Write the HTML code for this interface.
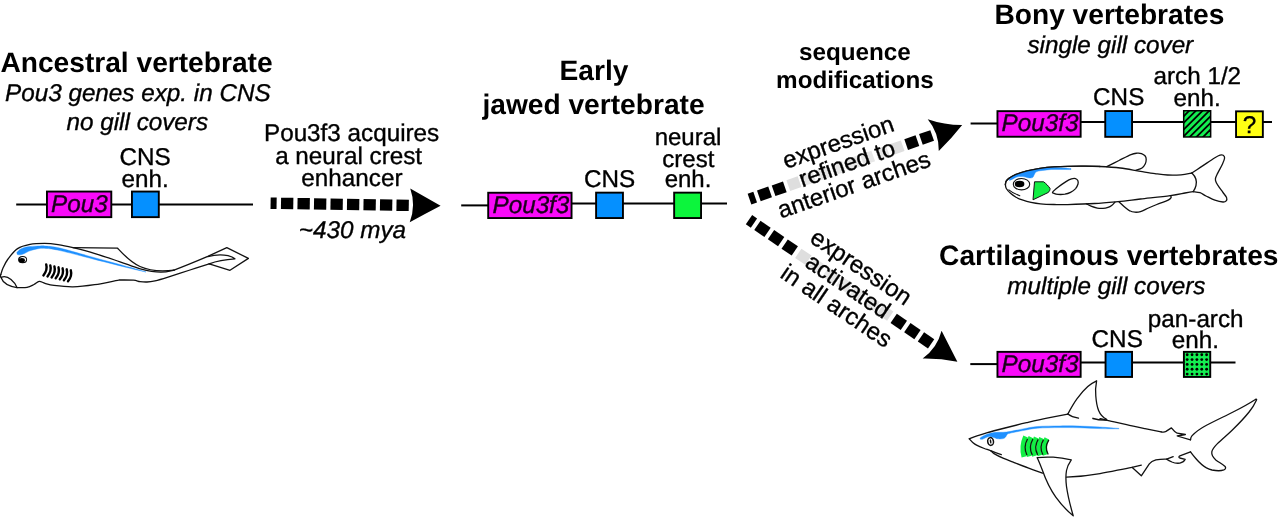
<!DOCTYPE html>
<html><head><meta charset="utf-8"><title>Pou3f3 gill cover evolution</title>
<style>
html,body{margin:0;padding:0;background:#fff;}
body{width:1280px;height:518px;overflow:hidden;font-family:"Liberation Sans",sans-serif;}
svg{display:block;font-family:"Liberation Sans",sans-serif;will-change:transform;}
text{text-rendering:geometricPrecision;}
</style></head><body>
<svg width="1280" height="518" viewBox="0 0 1280 518">
<rect width="1280" height="518" fill="#fff"/>
<line x1="16.20" y1="204.40" x2="253.00" y2="204.40" stroke="#000" stroke-width="2.00"/>
<rect x="46.95" y="191.55" width="64.35" height="25.60" fill="#f90af9" stroke="#000" stroke-width="1.90"/>
<rect x="131.95" y="191.55" width="26.85" height="25.60" fill="#0590ff" stroke="#000" stroke-width="1.90"/>
<text transform="translate(79.40,212.00) scale(1.0000,1)" font-size="24.25" text-anchor="middle" font-weight="normal" font-style="italic" fill="#1c001c" stroke="#1c001c" stroke-width="0.35">Pou3</text>
<text transform="translate(145.00,165.30) scale(1.0000,1)" font-size="24.25" text-anchor="middle" font-weight="normal" font-style="normal" fill="#000" stroke="#000" stroke-width="0.35">CNS</text>
<text transform="translate(145.20,186.80) scale(1.0000,1)" font-size="24.25" text-anchor="middle" font-weight="normal" font-style="normal" fill="#000" stroke="#000" stroke-width="0.35">enh.</text>
<line x1="461.20" y1="205.40" x2="489.00" y2="205.40" stroke="#000" stroke-width="2.00"/>
<line x1="571.00" y1="203.50" x2="727.00" y2="203.50" stroke="#000" stroke-width="2.00"/>
<rect x="488.20" y="192.75" width="83.35" height="25.30" fill="#f90af9" stroke="#000" stroke-width="1.90"/>
<rect x="596.10" y="192.65" width="26.85" height="25.40" fill="#0590ff" stroke="#000" stroke-width="1.90"/>
<rect x="674.15" y="192.65" width="26.90" height="25.40" fill="#0cf53c" stroke="#000" stroke-width="1.90"/>
<text transform="translate(530.90,212.80) scale(1.0000,1)" font-size="24.25" text-anchor="middle" font-weight="normal" font-style="italic" fill="#1c001c" stroke="#1c001c" stroke-width="0.35">Pou3f3</text>
<text transform="translate(609.50,186.50) scale(1.0000,1)" font-size="24.25" text-anchor="middle" font-weight="normal" font-style="normal" fill="#000" stroke="#000" stroke-width="0.35">CNS</text>
<text transform="translate(688.00,145.00) scale(1.0000,1)" font-size="24.00" text-anchor="middle" font-weight="normal" font-style="normal" fill="#000" stroke="#000" stroke-width="0.35">neural</text>
<text transform="translate(688.30,166.50) scale(1.0000,1)" font-size="24.00" text-anchor="middle" font-weight="normal" font-style="normal" fill="#000" stroke="#000" stroke-width="0.35">crest</text>
<text transform="translate(688.00,187.40) scale(1.0000,1)" font-size="24.00" text-anchor="middle" font-weight="normal" font-style="normal" fill="#000" stroke="#000" stroke-width="0.35">enh.</text>
<line x1="970.60" y1="123.50" x2="998.00" y2="123.50" stroke="#000" stroke-width="2.00"/>
<line x1="1080.00" y1="121.90" x2="1272.00" y2="121.90" stroke="#000" stroke-width="2.00"/>
<rect x="997.45" y="111.15" width="83.20" height="25.60" fill="#f90af9" stroke="#000" stroke-width="1.90"/>
<rect x="1105.25" y="111.05" width="26.80" height="25.80" fill="#0590ff" stroke="#000" stroke-width="1.90"/>
<rect x="1236.05" y="111.35" width="26.80" height="25.70" fill="#ffff14" stroke="#000" stroke-width="1.90"/>
<clipPath id="hc"><rect x="1184.45" y="111.50" width="25.45" height="24.70"/></clipPath>
<rect x="1182.95" y="110.00" width="28.45" height="27.70" fill="#000"/>
<g clip-path="url(#hc)" stroke="#14ee50" stroke-width="2.95"><line x1="1190.25" y1="106.30" x2="1179.25" y2="117.30"/><line x1="1196.95" y1="106.30" x2="1179.25" y2="124.00"/><line x1="1203.65" y1="106.30" x2="1179.25" y2="130.70"/><line x1="1210.35" y1="106.30" x2="1179.25" y2="137.40"/><line x1="1217.05" y1="106.30" x2="1179.25" y2="144.10"/><line x1="1223.75" y1="106.30" x2="1179.25" y2="150.80"/><line x1="1230.45" y1="106.30" x2="1179.25" y2="157.50"/><line x1="1237.15" y1="106.30" x2="1179.25" y2="164.20"/><line x1="1243.85" y1="106.30" x2="1179.25" y2="170.90"/></g>
<text transform="translate(1040.00,131.30) scale(1.0000,1)" font-size="24.25" text-anchor="middle" font-weight="normal" font-style="italic" fill="#1c001c" stroke="#1c001c" stroke-width="0.35">Pou3f3</text>
<line x1="970.30" y1="364.10" x2="998.00" y2="364.10" stroke="#000" stroke-width="2.00"/>
<line x1="1080.00" y1="362.40" x2="1235.50" y2="362.40" stroke="#000" stroke-width="2.00"/>
<rect x="997.45" y="351.85" width="83.20" height="25.00" fill="#f90af9" stroke="#000" stroke-width="1.90"/>
<rect x="1105.55" y="351.85" width="26.50" height="25.10" fill="#0590ff" stroke="#000" stroke-width="1.90"/>
<rect x="1183.90" y="351.85" width="26.35" height="25.10" fill="#14ee50" stroke="#000" stroke-width="1.90"/>
<g fill="#000"><circle cx="1187.20" cy="354.75" r="1.42"/><circle cx="1192.05" cy="354.75" r="1.42"/><circle cx="1196.90" cy="354.75" r="1.42"/><circle cx="1201.75" cy="354.75" r="1.42"/><circle cx="1206.60" cy="354.75" r="1.42"/><circle cx="1187.20" cy="359.58" r="1.42"/><circle cx="1192.05" cy="359.58" r="1.42"/><circle cx="1196.90" cy="359.58" r="1.42"/><circle cx="1201.75" cy="359.58" r="1.42"/><circle cx="1206.60" cy="359.58" r="1.42"/><circle cx="1187.20" cy="364.41" r="1.42"/><circle cx="1192.05" cy="364.41" r="1.42"/><circle cx="1196.90" cy="364.41" r="1.42"/><circle cx="1201.75" cy="364.41" r="1.42"/><circle cx="1206.60" cy="364.41" r="1.42"/><circle cx="1187.20" cy="369.24" r="1.42"/><circle cx="1192.05" cy="369.24" r="1.42"/><circle cx="1196.90" cy="369.24" r="1.42"/><circle cx="1201.75" cy="369.24" r="1.42"/><circle cx="1206.60" cy="369.24" r="1.42"/><circle cx="1187.20" cy="374.07" r="1.42"/><circle cx="1192.05" cy="374.07" r="1.42"/><circle cx="1196.90" cy="374.07" r="1.42"/><circle cx="1201.75" cy="374.07" r="1.42"/><circle cx="1206.60" cy="374.07" r="1.42"/></g>
<text transform="translate(1040.00,371.60) scale(1.0000,1)" font-size="24.25" text-anchor="middle" font-weight="normal" font-style="italic" fill="#1c001c" stroke="#1c001c" stroke-width="0.35">Pou3f3</text>
<text transform="translate(1117.20,346.60) scale(1.0000,1)" font-size="24.25" text-anchor="middle" font-weight="normal" font-style="normal" fill="#000" stroke="#000" stroke-width="0.35">CNS</text>
<text transform="translate(1195.70,326.80) scale(1.0000,1)" font-size="24.25" text-anchor="middle" font-weight="normal" font-style="normal" fill="#000" stroke="#000" stroke-width="0.35">pan-arch</text>
<text transform="translate(1195.30,347.80) scale(1.0000,1)" font-size="24.25" text-anchor="middle" font-weight="normal" font-style="normal" fill="#000" stroke="#000" stroke-width="0.35">enh.</text>
<text transform="translate(136.50,71.90) scale(1.0000,1)" font-size="28.15" text-anchor="middle" font-weight="bold" font-style="normal" fill="#000">Ancestral vertebrate</text>
<text transform="translate(137.80,100.70) scale(1.0000,1)" font-size="24.25" text-anchor="middle" font-weight="normal" font-style="italic" fill="#000" stroke="#000" stroke-width="0.35">Pou3 genes exp. in CNS</text>
<text transform="translate(137.30,129.50) scale(1.0000,1)" font-size="24.25" text-anchor="middle" font-weight="normal" font-style="italic" fill="#000" stroke="#000" stroke-width="0.35">no gill covers</text>
<text transform="translate(351.60,140.60) scale(1.0000,1)" font-size="24.25" text-anchor="middle" font-weight="normal" font-style="normal" fill="#000" stroke="#000" stroke-width="0.35">Pou3f3 acquires</text>
<text transform="translate(348.60,163.50) scale(1.0000,1)" font-size="24.25" text-anchor="middle" font-weight="normal" font-style="normal" fill="#000" stroke="#000" stroke-width="0.35">a neural crest</text>
<text transform="translate(351.90,186.40) scale(1.0000,1)" font-size="24.25" text-anchor="middle" font-weight="normal" font-style="normal" fill="#000" stroke="#000" stroke-width="0.35">enhancer</text>
<text transform="translate(352.40,237.80) scale(1.0000,1)" font-size="24.25" text-anchor="middle" font-weight="normal" font-style="italic" fill="#000" stroke="#000" stroke-width="0.35">~430 mya</text>
<text transform="translate(594.00,80.10) scale(1.0000,1)" font-size="28.15" text-anchor="middle" font-weight="bold" font-style="normal" fill="#000">Early</text>
<text transform="translate(593.50,114.20) scale(1.0000,1)" font-size="28.15" text-anchor="middle" font-weight="bold" font-style="normal" fill="#000">jawed vertebrate</text>
<text transform="translate(854.90,59.50) scale(1.0000,1)" font-size="24.25" text-anchor="middle" font-weight="bold" font-style="normal" fill="#000">sequence</text>
<text transform="translate(854.90,87.70) scale(1.0000,1)" font-size="24.25" text-anchor="middle" font-weight="bold" font-style="normal" fill="#000">modifications</text>
<text transform="translate(1109.40,24.10) scale(1.0000,1)" font-size="28.15" text-anchor="middle" font-weight="bold" font-style="normal" fill="#000">Bony vertebrates</text>
<text transform="translate(1110.30,52.90) scale(1.0000,1)" font-size="24.25" text-anchor="middle" font-weight="normal" font-style="italic" fill="#000" stroke="#000" stroke-width="0.35">single gill cover</text>
<text transform="translate(1108.80,264.80) scale(1.0000,1)" font-size="28.15" text-anchor="middle" font-weight="bold" font-style="normal" fill="#000">Cartilaginous vertebrates</text>
<text transform="translate(1106.40,294.00) scale(1.0000,1)" font-size="24.25" text-anchor="middle" font-weight="normal" font-style="italic" fill="#000" stroke="#000" stroke-width="0.35">multiple gill covers</text>
<text transform="translate(1118.70,105.20) scale(1.0000,1)" font-size="24.25" text-anchor="middle" font-weight="normal" font-style="normal" fill="#000" stroke="#000" stroke-width="0.35">CNS</text>
<text transform="translate(1197.30,84.10) scale(1.0000,1)" font-size="24.25" text-anchor="middle" font-weight="normal" font-style="normal" fill="#000" stroke="#000" stroke-width="0.35">arch 1/2</text>
<text transform="translate(1197.20,105.60) scale(1.0000,1)" font-size="24.25" text-anchor="middle" font-weight="normal" font-style="normal" fill="#000" stroke="#000" stroke-width="0.35">enh.</text>
<text transform="translate(1249.60,133.10) scale(1.0000,1)" font-size="24.25" text-anchor="middle" font-weight="normal" font-style="normal" fill="#000" stroke="#000" stroke-width="0.35">?</text>
<g transform="translate(270.60,203.20) rotate(0.90)">
<rect x="0" y="-5.70" width="6.00" height="11.40" fill="#000"/>
<rect x="10.40" y="-5.70" width="12.30" height="11.40" fill="#000"/>
<rect x="26.90" y="-5.70" width="12.30" height="11.40" fill="#000"/>
<rect x="43.40" y="-5.70" width="12.30" height="11.40" fill="#000"/>
<rect x="59.90" y="-5.70" width="12.30" height="11.40" fill="#000"/>
<rect x="76.40" y="-5.70" width="12.30" height="11.40" fill="#000"/>
<rect x="92.90" y="-5.70" width="12.30" height="11.40" fill="#000"/>
<rect x="109.40" y="-5.70" width="12.30" height="11.40" fill="#000"/>
<rect x="125.90" y="-5.70" width="12.30" height="11.40" fill="#000"/>
<path d="M139.40,-16.80 Q145.60,0 139.40,16.80 Q154.70,8.40 170.00,0 Q154.70,-8.40 139.40,-16.80 Z" fill="#000"/>
</g>
<g transform="translate(749.50,199.10) rotate(-19.20)">
<rect x="0" y="-5.65" width="6.00" height="11.30" fill="#000"/>
<rect x="9.90" y="-5.65" width="11.90" height="11.30" fill="#000"/>
<rect x="25.50" y="-5.65" width="11.90" height="11.30" fill="#000"/>
<rect x="41.10" y="-5.65" width="11.90" height="11.30" fill="#dedede"/>
<rect x="56.70" y="-5.65" width="11.90" height="11.30" fill="#e7e7e7"/>
<rect x="72.30" y="-5.65" width="11.90" height="11.30" fill="#e7e7e7"/>
<rect x="87.90" y="-5.65" width="11.90" height="11.30" fill="#e7e7e7"/>
<rect x="103.50" y="-5.65" width="11.90" height="11.30" fill="#e7e7e7"/>
<rect x="119.10" y="-5.65" width="11.90" height="11.30" fill="#e7e7e7"/>
<rect x="134.70" y="-5.65" width="11.90" height="11.30" fill="#e7e7e7"/>
<rect x="150.30" y="-5.65" width="11.90" height="11.30" fill="#dedede"/>
<rect x="165.90" y="-5.65" width="11.90" height="11.30" fill="#000"/>
<rect x="181.50" y="-5.65" width="11.90" height="11.30" fill="#000"/>
<path d="M194.60,-16.80 Q200.80,0 194.60,16.80 Q210.48,9.45 225.20,0 Q208.46,-5.77 194.60,-16.80 Z" fill="#000"/>
</g>
<g transform="translate(749.00,219.70) rotate(34.30)">
<rect x="0" y="-5.60" width="6.00" height="11.20" fill="#000"/>
<rect x="10.15" y="-5.60" width="12.30" height="11.20" fill="#000"/>
<rect x="26.65" y="-5.60" width="12.30" height="11.20" fill="#000"/>
<rect x="43.15" y="-5.60" width="12.30" height="11.20" fill="#000"/>
<rect x="59.65" y="-5.60" width="12.30" height="11.20" fill="#dedede"/>
<rect x="76.15" y="-5.60" width="12.30" height="11.20" fill="#e7e7e7"/>
<rect x="92.65" y="-5.60" width="12.30" height="11.20" fill="#e7e7e7"/>
<rect x="109.15" y="-5.60" width="12.30" height="11.20" fill="#e7e7e7"/>
<rect x="125.65" y="-5.60" width="12.30" height="11.20" fill="#e7e7e7"/>
<rect x="142.15" y="-5.60" width="12.30" height="11.20" fill="#e7e7e7"/>
<rect x="158.65" y="-5.60" width="12.30" height="11.20" fill="#dedede"/>
<rect x="175.15" y="-5.60" width="12.30" height="11.20" fill="#000"/>
<rect x="191.65" y="-5.60" width="12.30" height="11.20" fill="#000"/>
<rect x="208.15" y="-5.60" width="12.30" height="11.20" fill="#000"/>
<path d="M221.65,-16.80 Q227.85,0 221.65,16.80 Q235.99,6.65 252.25,0 Q236.95,-8.40 221.65,-16.80 Z" fill="#000"/>
</g>
<text transform="translate(840.90,149.80) rotate(-19.20) scale(1.0000,1)" font-size="24.00" text-anchor="middle" font-weight="normal" font-style="normal" fill="#000" stroke="#000" stroke-width="0.35">expression</text>
<text transform="translate(849.60,171.00) rotate(-19.20) scale(1.0000,1)" font-size="24.00" text-anchor="middle" font-weight="normal" font-style="normal" fill="#000" stroke="#000" stroke-width="0.35">refined to</text>
<text transform="translate(856.60,192.20) rotate(-19.20) scale(1.0000,1)" font-size="24.00" text-anchor="middle" font-weight="normal" font-style="normal" fill="#000" stroke="#000" stroke-width="0.35">anterior arches</text>
<text transform="translate(856.70,273.80) rotate(34.00) scale(1.0000,1)" font-size="24.00" text-anchor="middle" font-weight="normal" font-style="normal" fill="#000" stroke="#000" stroke-width="0.35">expression</text>
<text transform="translate(843.60,292.70) rotate(34.00) scale(1.0000,1)" font-size="24.00" text-anchor="middle" font-weight="normal" font-style="normal" fill="#000" stroke="#000" stroke-width="0.35">activated</text>
<text transform="translate(832.00,312.60) rotate(34.00) scale(1.0000,1)" font-size="24.00" text-anchor="middle" font-weight="normal" font-style="normal" fill="#000" stroke="#000" stroke-width="0.35">in all arches</text>
<path d="M0.8,274.5 C1.2,273.4 1.8,270.6 3.0,268.0 C4.2,265.4 5.6,262.2 8.0,259.0 C10.4,255.8 13.9,251.0 17.6,248.6 C21.3,246.2 25.5,245.3 30.0,244.4 C34.5,243.5 39.9,243.4 44.6,243.4 C49.3,243.4 53.3,243.9 58.0,244.6 C62.7,245.3 66.8,246.2 73.0,247.7 C79.2,249.2 87.2,251.2 95.0,253.6 C102.8,255.9 112.5,259.3 120.0,261.8 C127.5,264.3 133.6,267.1 140.3,268.8 C147.1,270.5 154.9,272.0 160.5,272.2 C166.1,272.4 171.8,270.5 174.0,270.1" fill="none" stroke="#111" stroke-width="1.30" stroke-linejoin="round" stroke-linecap="round"/>
<path d="M174,270.1 C185,266 197,261 207.8,256.4 L226.8,247.6 L248.4,258.4 L230,270.3 L209.2,263.8" fill="none" stroke="#111" stroke-width="1.30" stroke-linejoin="round" stroke-linecap="round"/>
<path d="M207.8,256.6 C213,255.2 222,254.6 228,255.6 C231,256.3 233.5,257.5 234.9,258.8 C228,259.2 217,260.8 209.2,263.8" fill="none" stroke="#111" stroke-width="1.30" stroke-linejoin="round" stroke-linecap="round"/>
<path d="M209.2,263.8 C206.0,264.8 197.0,267.8 190.0,270.0 C183.0,272.2 173.1,275.5 167.3,277.3 C161.5,279.1 158.4,280.0 155.0,280.8 C151.6,281.6 149.5,281.9 147.0,282.0 C144.5,282.1 142.2,281.9 140.0,281.6 C137.8,281.3 136.8,280.5 133.5,280.2 C130.2,279.9 122.7,280.0 120.0,280.0 C117.3,280.0 121.8,279.5 117.6,280.3 C113.4,281.1 102.0,283.6 94.6,284.7 C87.2,285.8 79.8,286.7 73.0,286.8 C66.2,286.9 58.7,286.0 54.0,285.4 C49.3,284.8 47.5,284.0 45.0,283.3 C42.5,282.6 41.0,281.2 39.2,281.4 C37.4,281.6 36.0,283.5 34.0,284.5 C32.0,285.5 29.8,286.9 27.0,287.4 C24.2,287.9 18.7,287.6 17.0,287.6" fill="none" stroke="#111" stroke-width="1.30" stroke-linejoin="round" stroke-linecap="round"/>
<path d="M17,287.6 C10,286.5 3,283 1,277.5 C0.3,276 0.5,275 0.8,274.5" fill="none" stroke="#111" stroke-width="1.30" stroke-linejoin="round" stroke-linecap="round"/>
<path d="M1.2,277.3 C4,276.2 8,277 11,279.5 C14,282 16,285 17,287.4" fill="none" stroke="#111" stroke-width="1.30" stroke-linejoin="round" stroke-linecap="round"/>
<path d="M73,247.6 L117.6,248.2 C123,254 130,262 140,266.5 C150,271 162,271.6 174,270.1" fill="none" stroke="#111" stroke-width="1.30" stroke-linejoin="round" stroke-linecap="round"/>
<path d="M16.8,252.6 C17.2,252.1 18.5,250.6 19.5,249.8 C20.5,249.0 21.2,248.5 23.0,247.9 C24.8,247.3 27.2,246.8 30.0,246.5 C32.8,246.2 37.3,246.0 40.0,245.9 C42.7,245.8 42.7,245.7 46.0,246.1 C49.3,246.5 51.9,246.2 60.0,248.1 C68.1,250.0 82.9,254.5 94.6,257.7 C106.3,260.9 121.4,264.9 130.0,267.3 C138.6,269.7 143.3,271.2 146.0,272.0 L146.0,272.0 C143.3,271.4 138.6,270.4 130.0,268.3 C121.4,266.2 106.3,262.3 94.6,259.4 C82.9,256.4 68.1,252.4 60.0,250.6 C51.9,248.8 49.7,248.7 46.0,248.4 C42.3,248.1 40.7,248.3 38.0,248.7 C35.3,249.1 32.2,250.1 30.0,250.8 C27.8,251.6 26.6,252.5 25.0,253.2 C23.4,253.9 21.8,254.6 20.5,254.8 C19.2,255.0 17.8,254.5 17.2,254.4Z" fill="#1e90ff" stroke="#1e90ff" stroke-width="0.4" stroke-linejoin="round"/>
<ellipse cx="22.6" cy="259.7" rx="4.5" ry="3.6" fill="#0a0a0a"/>
<ellipse cx="22.8" cy="259.5" rx="3.3" ry="2.5" fill="#fff"/>
<ellipse cx="21.9" cy="260.2" rx="3.0" ry="2.3" fill="#000"/>
<path d="M46.2,264.4 q1.6,5.5 -2.8,11.0" fill="none" stroke="#000" stroke-width="2.4" stroke-linecap="round"/>
<path d="M50.3,265.4 q1.6,5.5 -2.8,11.0" fill="none" stroke="#000" stroke-width="2.4" stroke-linecap="round"/>
<path d="M54.4,266.4 q1.6,5.5 -2.8,11.0" fill="none" stroke="#000" stroke-width="2.4" stroke-linecap="round"/>
<path d="M58.5,267.3 q1.6,5.5 -2.8,11.0" fill="none" stroke="#000" stroke-width="2.4" stroke-linecap="round"/>
<path d="M62.6,268.3 q1.6,5.5 -2.8,11.0" fill="none" stroke="#000" stroke-width="2.4" stroke-linecap="round"/>
<path d="M66.7,269.3 q1.6,5.5 -2.8,11.0" fill="none" stroke="#000" stroke-width="2.4" stroke-linecap="round"/>
<path d="M70.8,270.3 q1.6,5.5 -2.8,11.0" fill="none" stroke="#000" stroke-width="2.4" stroke-linecap="round"/>
<path d="M1005.4,184.6 C1005.5,184.1 1005.5,182.5 1006.0,181.5 C1006.5,180.5 1006.8,179.8 1008.5,178.6 C1010.2,177.4 1012.9,175.7 1016.0,174.4 C1019.1,173.1 1023.0,171.9 1027.0,170.9 C1031.0,169.9 1035.5,169.0 1040.0,168.3 C1044.5,167.6 1047.2,167.2 1054.0,166.8 C1060.8,166.5 1073.3,166.2 1081.0,166.2 C1088.7,166.1 1093.5,166.2 1100.0,166.5 C1106.5,166.8 1113.5,167.2 1120.3,168.0 C1127.0,168.8 1134.7,170.5 1140.5,171.4 C1146.3,172.3 1150.5,173.0 1155.0,173.6 C1159.5,174.2 1163.3,174.8 1167.6,175.0 C1171.9,175.2 1177.0,175.1 1181.0,174.8 C1185.0,174.5 1190.1,173.3 1191.9,173.0" fill="none" stroke="#111" stroke-width="1.30" stroke-linejoin="round" stroke-linecap="round"/>
<path d="M1005.4,184.6 C1005.5,185.2 1005.4,187.0 1006.3,188.5 C1007.2,190.0 1009.2,192.2 1010.8,193.6 C1012.4,195.0 1014.0,196.1 1016.0,197.2 C1018.0,198.3 1020.5,199.3 1023.0,200.2 C1025.5,201.1 1028.1,201.8 1031.0,202.4 C1033.9,203.0 1036.7,203.5 1040.5,203.8 C1044.3,204.2 1049.5,204.4 1054.0,204.5 C1058.5,204.6 1060.8,204.8 1067.6,204.6 C1074.4,204.4 1086.2,204.0 1094.6,203.5 C1103.0,203.0 1110.3,202.3 1118.0,201.6 C1125.7,200.8 1131.8,200.0 1140.5,199.0 C1149.2,198.0 1162.9,196.6 1170.3,195.6 C1177.7,194.6 1181.2,193.7 1185.0,193.0 C1188.8,192.3 1191.8,191.8 1193.2,191.6" fill="none" stroke="#111" stroke-width="1.30" stroke-linejoin="round" stroke-linecap="round"/>
<path d="M1191.9,173.0 C1193.8,171.8 1199.2,168.1 1203.0,165.6 C1206.8,163.1 1212.1,159.5 1214.9,157.8 C1217.7,156.1 1218.6,155.6 1220.0,155.2 C1221.4,154.8 1222.4,154.8 1223.2,155.3 C1224.0,155.8 1224.7,156.6 1224.6,158.0 C1224.5,159.4 1223.7,161.4 1222.5,164.0 C1221.3,166.6 1218.8,170.9 1217.6,173.4 C1216.4,175.9 1215.6,177.2 1215.4,178.8 C1215.2,180.4 1215.9,181.7 1216.5,183.0 C1217.1,184.3 1217.8,185.3 1218.9,186.9 C1220.0,188.5 1221.7,190.7 1223.0,192.5 C1224.3,194.3 1226.1,196.2 1226.6,197.6 C1227.1,199.0 1226.8,200.1 1226.2,200.8 C1225.6,201.5 1224.9,202.1 1223.0,202.0 C1221.1,201.9 1217.7,201.2 1214.9,200.2 C1212.1,199.2 1208.5,197.2 1206.0,196.0 C1203.5,194.8 1202.1,193.4 1200.0,192.7 C1197.9,192.0 1194.3,191.8 1193.2,191.6" fill="none" stroke="#111" stroke-width="1.30" stroke-linejoin="round" stroke-linecap="round"/>
<path d="M1191.9,173 C1195.5,176.5 1197,181.5 1196,185.5 C1195.4,188 1194.4,190 1193.2,191.6" fill="none" stroke="#111" stroke-width="1.30" stroke-linejoin="round" stroke-linecap="round"/>
<path d="M1106.8,166.6 C1108.8,165.6 1115.0,162.5 1119.0,160.5 C1123.0,158.5 1128.0,155.8 1131.0,154.6 C1134.0,153.4 1135.2,153.4 1137.0,153.2 C1138.8,153.0 1140.1,153.1 1141.5,153.6 C1142.9,154.1 1144.4,155.0 1145.2,156.0 C1146.0,157.0 1146.2,158.2 1146.2,159.5 C1146.2,160.8 1145.9,162.6 1145.2,164.0 C1144.5,165.4 1143.6,166.9 1142.0,168.0 C1140.4,169.1 1136.8,170.0 1135.8,170.4" fill="none" stroke="#111" stroke-width="1.30" stroke-linejoin="round" stroke-linecap="round"/>
<path d="M1118.9,201.8 C1119.8,202.6 1122.2,205.0 1124.0,206.5 C1125.8,208.0 1127.9,209.9 1129.7,210.8 C1131.5,211.8 1133.2,212.1 1135.0,212.2 C1136.8,212.3 1138.2,212.3 1140.5,211.6 C1142.8,210.9 1145.8,209.2 1148.5,208.0 C1151.2,206.8 1154.2,205.5 1156.8,204.5 C1159.4,203.5 1162.0,202.6 1164.0,201.8 C1166.0,201.0 1167.8,200.4 1169.0,199.6 C1170.2,198.8 1171.0,197.9 1171.2,197.2 C1171.4,196.5 1170.5,195.9 1170.3,195.6" fill="none" stroke="#111" stroke-width="1.30" stroke-linejoin="round" stroke-linecap="round"/>
<path d="M1086.5,203.9 C1087.2,204.3 1089.2,205.5 1091.0,206.2 C1092.8,206.9 1095.3,207.7 1097.3,208.1 C1099.3,208.5 1101.2,208.5 1103.0,208.4 C1104.8,208.3 1106.5,207.9 1108.0,207.4 C1109.5,206.9 1110.8,206.1 1112.0,205.2 C1113.2,204.3 1114.4,202.7 1114.9,202.2" fill="none" stroke="#111" stroke-width="1.30" stroke-linejoin="round" stroke-linecap="round"/>
<path d="M1052.7,192.0 C1053.4,191.0 1055.8,188.9 1058.0,187.2 C1060.2,185.5 1063.8,183.0 1066.0,181.6 C1068.2,180.2 1069.9,179.4 1071.5,178.9 C1073.1,178.4 1074.5,178.3 1075.5,178.6 C1076.5,178.9 1077.4,179.7 1077.8,180.6 C1078.2,181.5 1078.4,182.7 1078.0,184.0 C1077.6,185.3 1076.8,187.2 1075.6,188.6 C1074.3,190.0 1072.3,191.4 1070.5,192.3 C1068.7,193.2 1067.0,193.8 1064.9,194.2 C1062.8,194.5 1059.8,194.5 1058.0,194.4 C1056.2,194.3 1054.9,193.8 1054.0,193.4 C1053.1,193.0 1052.0,193.0 1052.7,192.0Z" fill="none" stroke="#111" stroke-width="1.30" stroke-linejoin="round" stroke-linecap="round"/>
<path d="M1008.8,189.9 C1011.5,192.2 1015,194 1019.8,195.7" fill="none" stroke="#111" stroke-width="1.10" stroke-linejoin="round" stroke-linecap="round"/>
<path d="M1009.3,179.2 C1010.4,178.4 1013.0,176.0 1016.0,174.6 C1019.0,173.2 1023.0,172.0 1027.0,171.0 C1031.0,170.0 1035.5,169.2 1040.0,168.6 C1044.5,168.0 1048.8,167.6 1054.0,167.6 C1059.2,167.6 1068.2,168.4 1071.0,168.6 L1071.0,169.6 C1068.2,169.6 1058.3,169.3 1054.0,169.4 C1049.7,169.5 1047.8,169.8 1045.0,170.2 C1042.2,170.5 1038.8,170.8 1037.0,171.5 C1035.2,172.2 1035.2,173.4 1034.4,174.4 C1033.7,175.4 1033.6,177.0 1032.5,177.6 C1031.4,178.2 1029.6,178.0 1028.0,177.8 C1026.4,177.6 1024.8,176.8 1023.0,176.6 C1021.2,176.4 1018.8,176.4 1017.0,176.9 C1015.2,177.4 1013.3,178.8 1012.0,179.4 C1010.7,180.0 1009.8,180.2 1009.3,180.4Z" fill="#1e90ff" stroke="#1e90ff" stroke-width="0.4" stroke-linejoin="round"/>
<path d="M1005.4,184.6 C1005.5,184.1 1005.5,182.5 1006.0,181.5 C1006.5,180.5 1006.8,179.8 1008.5,178.6 C1010.2,177.4 1012.9,175.7 1016.0,174.4 C1019.1,173.1 1023.0,171.9 1027.0,170.9 C1031.0,169.9 1035.5,169.0 1040.0,168.3 C1044.5,167.6 1047.2,167.2 1054.0,166.8 C1060.8,166.5 1073.3,166.2 1081.0,166.2 C1088.7,166.1 1096.8,166.4 1100.0,166.5" fill="none" stroke="#111" stroke-width="1.30" stroke-linejoin="round" stroke-linecap="round"/>
<ellipse cx="1021.5" cy="184.2" rx="8.2" ry="5.7" fill="#fff" stroke="#111" stroke-width="1.1"/>
<ellipse cx="1019.6" cy="184" rx="4.8" ry="3.3" fill="#000"/>
<path d="M1034.5,181.8 L1043.6,181.8 C1046,183.5 1048.4,186 1050,188.4 C1050.2,190 1049.4,191.6 1048,192.6 L1033,199.8 Z" fill="#12ee44" stroke="#111" stroke-width="1" stroke-linejoin="round"/>
<path d="M969.3,438.8 C970.6,438.3 974.1,436.9 977.0,435.9 C979.9,434.9 981.9,434.1 986.6,432.8 C991.3,431.5 998.3,429.7 1005.0,428.0 C1011.7,426.3 1019.6,424.3 1026.6,422.7 C1033.6,421.1 1040.1,419.6 1047.0,418.2 C1053.9,416.8 1064.3,414.8 1067.8,414.1" fill="none" stroke="#111" stroke-width="1.30" stroke-linejoin="round" stroke-linecap="round"/>
<path d="M1067.8,414.1 C1070.5,409 1073.5,403.5 1077.1,398.6 C1080.5,394 1084,390 1087.8,386.6 C1090.5,384.2 1093.5,382.2 1096.6,380.8 C1095.6,386 1095.3,391 1095.8,396 C1096.2,401.5 1097,406.5 1098.6,410.6 C1100.2,414.6 1103,417.6 1106.6,419.4" fill="none" stroke="#111" stroke-width="1.30" stroke-linejoin="round" stroke-linecap="round"/>
<path d="M1067.8,414.1 C1070.5,416.2 1074.5,417.6 1078.5,418.2" fill="none" stroke="#111" stroke-width="1.30" stroke-linejoin="round" stroke-linecap="round"/>
<path d="M1093,418.4 C1097,419.6 1102,420.2 1106.6,420" fill="none" stroke="#111" stroke-width="1.60" stroke-linejoin="round" stroke-linecap="round"/>
<path d="M1100.0,418.6 C1102.2,419.1 1108.6,420.7 1113.0,421.7 C1117.4,422.7 1121.3,423.5 1126.6,424.7 C1131.9,425.9 1139.2,427.4 1145.0,428.6 C1150.8,429.8 1158.5,431.3 1161.2,431.8" fill="none" stroke="#111" stroke-width="1.30" stroke-linejoin="round" stroke-linecap="round"/>
<path d="M1161.2,431.8 C1163,432.3 1164.6,432.2 1166,431.4 L1171.4,427.9 C1173,430 1175,432 1177.2,433.2 L1185.4,434.5 L1177.2,436 L1190.5,439.9" fill="none" stroke="#111" stroke-width="1.30" stroke-linejoin="round" stroke-linecap="round"/>
<path d="M1190.5,439.9 C1190.6,438.4 1191,437 1191.9,435.9 C1196,431.6 1201,428.2 1206.5,425.3 C1215,420.8 1224,416.6 1233.1,412 C1241,408 1249,403.6 1255.8,399.2 C1256.6,398.8 1256.9,399.3 1256.4,400.2 C1254.5,404.4 1252,408.4 1249.1,412 C1244,418.3 1238.5,424 1233.1,429.3 C1227.6,434.6 1222,439.2 1217.2,443.9 C1214.6,446.5 1212.4,449 1211.8,451.9 C1211.4,455 1213.2,457.6 1215.8,459.9 C1218.6,462.2 1222.4,464 1225.1,466.5 C1226.2,467.8 1225.4,469.2 1223.8,469.9 C1221,471 1216,470.8 1212,470 C1210,469.5 1208.2,468.8 1206.5,467.9 C1202.4,465.6 1198.8,462 1195.8,458.5 C1193.8,456.2 1192,454 1190.5,451.9" fill="none" stroke="#111" stroke-width="1.30" stroke-linejoin="round" stroke-linecap="round"/>
<path d="M1190.5,451.9 L1179.9,455.9 C1178.6,456.6 1178.6,457.6 1179.8,458 L1185.2,459.3 C1184.4,461.2 1182.4,462.6 1179.9,463.1 C1177,463.5 1174.2,463 1171.9,462 C1169.8,461 1168,460 1166.6,459.1" fill="none" stroke="#111" stroke-width="1.30" stroke-linejoin="round" stroke-linecap="round"/>
<path d="M1173.2,456.7 L1166.6,459.1 C1163,459 1159.4,459.2 1155.9,459.9 C1153,460.8 1150.8,462 1149.3,463.9 L1141.3,475.8 L1132,467.3" fill="none" stroke="#111" stroke-width="1.30" stroke-linejoin="round" stroke-linecap="round"/>
<path d="M1141.3,465.2 L1132,467.3 C1121,469.4 1110.5,471.8 1100,473.7 C1089,475.7 1077.5,476.9 1066.5,477.2" fill="none" stroke="#111" stroke-width="1.30" stroke-linejoin="round" stroke-linecap="round"/>
<path d="M969.3,438.8 C969.8,439.4 971.3,441.1 972.5,442.2 C973.7,443.2 974.6,444.1 976.6,445.1 C978.6,446.2 982.0,447.6 984.3,448.5 C986.6,449.4 989.0,449.8 990.6,450.7 C992.2,451.6 991.8,452.3 994.0,453.6 C996.2,454.9 1000.4,457.0 1003.6,458.4 C1006.8,459.8 1009.1,460.6 1013.2,462.2 C1017.3,463.8 1023.1,466.1 1028.0,467.9 C1032.9,469.7 1040.1,472.3 1042.5,473.2" fill="none" stroke="#111" stroke-width="1.30" stroke-linejoin="round" stroke-linecap="round"/>
<path d="M990.6,450.7 C994,452.2 997.6,453.5 1001.3,454.7" fill="none" stroke="#111" stroke-width="1.30" stroke-linejoin="round" stroke-linecap="round"/>
<path d="M1025.6,436.6 q-4.4,10.1 -1.6,20.2" fill="none" stroke="#12ee44" stroke-width="5.0" stroke-linecap="butt"/>
<path d="M1030.9,437.1 q-4.4,9.7 -1.6,19.3" fill="none" stroke="#12ee44" stroke-width="5.0" stroke-linecap="butt"/>
<path d="M1036.2,437.5 q-4.4,9.2 -1.6,18.4" fill="none" stroke="#12ee44" stroke-width="5.0" stroke-linecap="butt"/>
<path d="M1041.5,438.0 q-4.4,8.8 -1.6,17.5" fill="none" stroke="#12ee44" stroke-width="5.0" stroke-linecap="butt"/>
<path d="M1046.8,438.4 q-4.4,8.3 -1.6,16.6" fill="none" stroke="#12ee44" stroke-width="5.0" stroke-linecap="butt"/>
<path d="M1027.4,439.2 q-4.2,7.8 -0.6,15.6" fill="none" stroke="#0b1a0b" stroke-width="1.3" stroke-linecap="round"/>
<path d="M1032.7,439.5 q-4.2,7.5 -0.6,15.1" fill="none" stroke="#0b1a0b" stroke-width="1.3" stroke-linecap="round"/>
<path d="M1038.0,439.8 q-4.2,7.3 -0.6,14.6" fill="none" stroke="#0b1a0b" stroke-width="1.3" stroke-linecap="round"/>
<path d="M1043.3,440.1 q-4.2,7.0 -0.6,14.1" fill="none" stroke="#0b1a0b" stroke-width="1.3" stroke-linecap="round"/>
<path d="M1048.6,440.4 q-4.2,6.8 -0.6,13.6" fill="none" stroke="#0b1a0b" stroke-width="1.3" stroke-linecap="round"/>
<path d="M1037.2,457.7 C1042.5,457 1048,456.9 1053.2,457.2 C1059.2,457.6 1065.4,458.6 1071.3,459.9 C1069,463.2 1067.2,466.8 1066.5,470.5 C1065.6,475.6 1065.8,481 1066.5,486.5 C1067.8,496 1070.4,506 1073.2,515.8 C1066.6,510.4 1060.8,504 1055.8,497.1 C1050,489 1045.8,479.8 1042.5,470.5 C1040.8,466 1039.2,461.8 1037.2,457.7Z" fill="#fff" stroke="#111" stroke-width="1.30" stroke-linejoin="round" stroke-linecap="round"/>
<path d="M980.0,438.0 C980.7,437.6 982.0,436.3 984.3,435.4 C986.6,434.5 990.3,433.2 994.0,432.6 C997.7,432.0 1001.7,432.6 1006.5,432.0 C1011.3,431.4 1017.8,429.8 1022.9,428.9 C1028.0,428.0 1031.2,427.0 1037.4,426.5 C1043.6,426.0 1052.9,426.0 1060.0,425.9 C1067.1,425.8 1073.1,425.9 1079.8,426.1 C1086.5,426.3 1093.5,426.6 1100.0,427.0 C1106.5,427.4 1115.8,428.2 1119.0,428.4 L1119.0,428.8 C1115.8,428.8 1106.5,428.8 1100.0,428.6 C1093.5,428.4 1086.5,428.0 1079.8,427.8 C1073.1,427.6 1067.1,427.5 1060.0,427.6 C1052.9,427.7 1043.6,427.7 1037.4,428.2 C1031.2,428.7 1027.5,429.8 1022.9,430.6 C1018.3,431.4 1012.6,432.6 1010.0,433.2 C1007.4,433.8 1007.9,433.8 1007.2,434.4 C1006.5,435.0 1006.3,436.3 1005.6,437.0 C1004.9,437.7 1004.5,438.3 1003.2,438.6 C1001.9,438.9 999.4,439.0 997.8,438.8 C996.2,438.6 995.0,437.8 993.5,437.4 C992.0,437.0 990.4,436.5 989.1,436.6 C987.8,436.7 986.6,437.4 985.5,437.8 C984.4,438.2 983.2,439.1 982.4,439.3 C981.5,439.5 980.7,439.2 980.4,439.2Z" fill="#1e90ff" stroke="#1e90ff" stroke-width="0.4" stroke-linejoin="round"/>
<ellipse cx="990.6" cy="441.5" rx="2.9" ry="3.9" fill="#fff" stroke="#111" stroke-width="1.5" transform="rotate(-8 990.6 441.5)"/>
<ellipse cx="990.6" cy="441.5" rx="0.8" ry="2.2" fill="#111" transform="rotate(-8 990.6 441.5)"/>
</svg>
</body></html>
